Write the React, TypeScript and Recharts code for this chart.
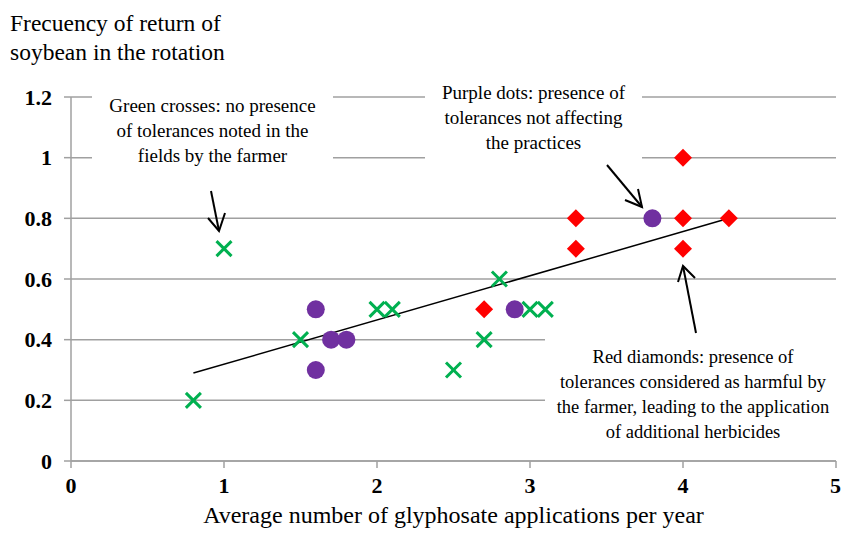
import { ScatterChart, Scatter, XAxis, YAxis, CartesianGrid } from "recharts";

const xTicks = [0, 1, 2, 3, 4, 5];
const yTicks = [0, 0.2, 0.4, 0.6, 0.8, 1, 1.2];

// green crosses: no tolerance noted
const greenX = [1, 0.8, 1.5, 2, 2.1, 2.8, 2.7, 2.5, 3, 3.1];
const greenY = [0.7, 0.2, 0.4, 0.5, 0.5, 0.6, 0.4, 0.3, 0.5, 0.5];
// purple dots: tolerance not affecting practices
const purpleX = [1.6, 1.6, 1.7, 1.8, 2.9, 3.8];
const purpleY = [0.5, 0.3, 0.4, 0.4, 0.5, 0.8];
// red diamonds: tolerance considered harmful
const redX = [2.7, 3.3, 3.3, 4, 4, 4, 4.3];
const redY = [0.5, 0.8, 0.7, 1, 0.8, 0.7, 0.8];
// trend line end points
const trendX = [0.8, 4.3];
const trendY = [0.29, 0.8];

const toPoints = (xs: number[], ys: number[]) => xs.map((x, i) => ({ x, y: ys[i] }));

const FONT = "'Liberation Serif', 'Times New Roman', serif";

const Cross = (p: any) => {
  const s = 7.5;
  return (
    <g stroke="#00b050" strokeWidth={3}>
      <line x1={p.cx - s} y1={p.cy - s} x2={p.cx + s} y2={p.cy + s} />
      <line x1={p.cx - s} y1={p.cy + s} x2={p.cx + s} y2={p.cy - s} />
    </g>
  );
};

const Dot = (p: any) => <circle cx={p.cx} cy={p.cy} r={9} fill="#7030a0" />;

const Diamond = (p: any) => {
  const s = 9;
  return <path d={`M${p.cx},${p.cy - s}L${p.cx + s},${p.cy}L${p.cx},${p.cy + s}L${p.cx - s},${p.cy}Z`} fill="#ff0000" />;
};

const Nothing = () => <g />;

const note: React.CSSProperties = {
  position: "absolute",
  background: "#fff",
  fontFamily: FONT,
  fontSize: 19,
  lineHeight: "25px",
  textAlign: "center",
  color: "#000",
  whiteSpace: "nowrap",
};

export default function App() {
  return (
    <div style={{ position: "absolute", left: 0, top: 0, width: 841, height: 534, overflow: "hidden", background: "#fff" }}>
      <ScatterChart width={841} height={534} margin={{ top: 97, right: 5, bottom: 0, left: 0 }}>
        <CartesianGrid vertical={false} stroke="#a0a0a0" strokeWidth={1.5} />
        <XAxis
          type="number"
          dataKey="x"
          domain={[0, 5]}
          ticks={xTicks}
          height={73}
          stroke="#a0a0a0"
          strokeWidth={1.5}
          tickSize={7}
          tickMargin={9}
          tick={{ fill: "#000", fontFamily: FONT, fontSize: 22, fontWeight: "bold" }}
          label={{ value: "Average number of glyphosate applications per year", position: "insideBottom", offset: 11, fill: "#000", fontFamily: FONT, fontSize: 24 }}
        />
        <YAxis
          type="number"
          dataKey="y"
          domain={[0, 1.2]}
          ticks={yTicks}
          width={71}
          stroke="#a0a0a0"
          strokeWidth={1.5}
          tickSize={7}
          tickMargin={12}
          tick={{ fill: "#000", fontFamily: FONT, fontSize: 22, fontWeight: "bold" }}
        />
        <Scatter data={toPoints(trendX, trendY)} line={{ stroke: "#000", strokeWidth: 1.5 }} shape={Nothing} isAnimationActive={false} />
        <Scatter data={toPoints(greenX, greenY)} shape={Cross} isAnimationActive={false} />
        <Scatter data={toPoints(purpleX, purpleY)} shape={Dot} isAnimationActive={false} />
        <Scatter data={toPoints(redX, redY)} shape={Diamond} isAnimationActive={false} />
      </ScatterChart>

      <div style={{ position: "absolute", left: 10, top: 9, fontFamily: FONT, fontSize: 23.5, lineHeight: "29px" }}>
        Frecuency of return of
        <br />
        soybean in the rotation
      </div>

      <div style={{ ...note, left: 92, top: 93, width: 241, height: 76 }}>
        Green crosses: no presence
        <br />
        of tolerances noted in the
        <br />
        fields by the farmer
      </div>
      <div style={{ ...note, left: 425, top: 80, width: 217, height: 82 }}>
        Purple dots: presence of
        <br />
        tolerances not affecting
        <br />
        the practices
      </div>
      <div style={{ ...note, left: 545, top: 335, width: 296, height: 110, boxSizing: "border-box", paddingTop: 10, fontSize: 18.5 }}>
        Red diamonds: presence of
        <br />
        tolerances considered as harmful by
        <br />
        the farmer, leading to the application
        <br />
        of additional herbicides
      </div>

      <svg width={841} height={534} style={{ position: "absolute", left: 0, top: 0, pointerEvents: "none" }}>
        <g stroke="#000" strokeWidth={2} fill="none">
          <line x1={211} y1={191} x2={219} y2={231} />
          <polyline points="208,218 219,231 225,213" />
          <line x1={607} y1={165} x2={642} y2={207} />
          <polyline points="625,200 642,207 638,189" />
          <line x1={696} y1={333} x2={683} y2={266} />
          <polyline points="678,282 683,266 695,278" />
        </g>
      </svg>
    </div>
  );
}
